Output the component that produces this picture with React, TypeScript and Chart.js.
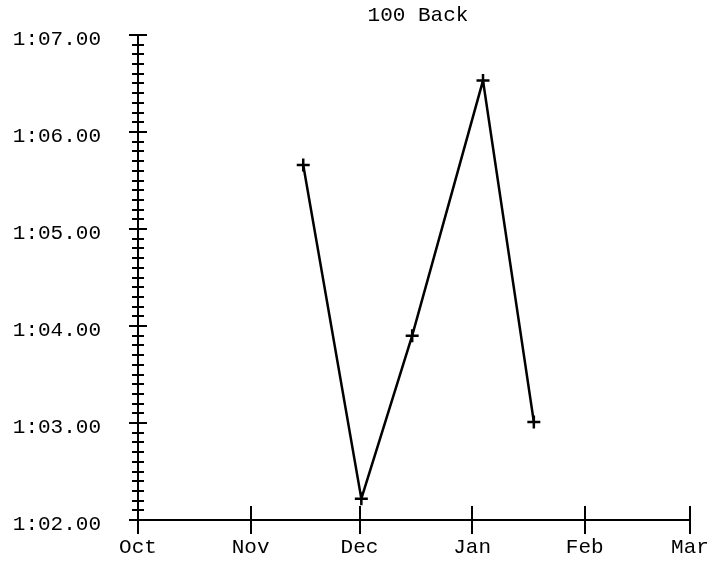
import React, { useEffect, useRef } from 'react';
import { Chart, registerables } from 'chart.js';

Chart.register(...registerables);

// ---- data ----
const chartTitle = '100 Back';
const monthLabels = ['Oct', 'Nov', 'Dec', 'Jan', 'Feb', 'Mar'];
const monthStartDays = [0, 31, 61, 92, 123, 152]; // days since Oct 1 (leap-year season)
const swimDays = [45.5, 61.5, 75.5, 95, 109];
const swimTimes = [65.66, 62.22, 63.9, 66.53, 63.01]; // seconds
const yMin = 62;
const yMax = 67;
const yMinorStep = 0.1;

const FONT = '"Liberation Mono", "Courier New", monospace';
const FONT_SIZE = 21;

function formatTime(v: number): string {
  const m = Math.floor(v / 60);
  const s = v - m * 60;
  return `${m}:${s.toFixed(2).padStart(5, '0')}`;
}

function isWhole(v: number) {
  return Math.abs(v - Math.round(v)) < 1e-6;
}

const crossTicksPlugin = {
  id: 'crossTicks',
  afterDraw(chart: any) {
    const ctx = chart.ctx as CanvasRenderingContext2D;
    const xs = chart.scales.x;
    const ys = chart.scales.y;
    const { left, right, bottom } = chart.chartArea;
    ctx.save();
    ctx.strokeStyle = '#000';
    ctx.lineWidth = 2;
    ctx.beginPath();
    ys.ticks.forEach((t: any) => {
      const p = Math.round(ys.getPixelForValue(t.value));
      const h = isWhole(t.value) ? 9 : 6;
      ctx.moveTo(left - h, p);
      ctx.lineTo(left + h, p);
    });
    xs.ticks.forEach((t: any) => {
      const p = Math.round(xs.getPixelForValue(t.value));
      ctx.moveTo(p, bottom - 14);
      ctx.lineTo(p, bottom + 14);
    });
    ctx.stroke();
    ctx.font = `${FONT_SIZE}px ${FONT}`;
    ctx.fillStyle = '#000';
    ctx.textAlign = 'center';
    ctx.textBaseline = 'middle';
    ctx.fillText(chartTitle, (left + right) / 2 + 4, 15);
    ctx.restore();
  },
};

export default function App() {
  const ref = useRef<HTMLCanvasElement>(null);

  useEffect(() => {
    if (!ref.current) return;
    const chart = new Chart(ref.current, {
      type: 'line',
      data: {
        datasets: [
          {
            data: swimDays.map((d, i) => ({ x: d, y: swimTimes[i] })),
            borderColor: '#000',
            borderWidth: 2.5,
            pointStyle: 'cross',
            pointRadius: 6.5,
            pointBorderWidth: 2.5,
            pointBorderColor: '#000',
            pointBackgroundColor: '#000',
            tension: 0,
          },
        ],
      },
      options: {
        animation: false,
        responsive: false,
        layout: { padding: { top: 35, right: 37, left: 0, bottom: 0 } },
        plugins: {
          legend: { display: false },
          tooltip: { enabled: false },
          title: { display: false },
        },
        scales: {
          x: {
            type: 'linear',
            min: monthStartDays[0],
            max: monthStartDays[monthStartDays.length - 1],
            afterBuildTicks: (scale: any) => {
              scale.ticks = monthStartDays.map((v) => ({ value: v }));
            },
            afterFit: (scale: any) => {
              scale.height = 41;
              scale.paddingLeft = 0;
              scale.paddingRight = 0;
              scale.paddingTop = 0;
              scale.paddingBottom = 0;
            },
            grid: { display: false, drawTicks: false },
            border: { display: true, color: '#000', width: 2 },
            ticks: {
              autoSkip: false,
              maxRotation: 0,
              padding: 14.5,
              color: '#000',
              font: { family: FONT, size: FONT_SIZE },
              callback: (v: any) => {
                const i = monthStartDays.indexOf(Number(v));
                return i >= 0 ? monthLabels[i] : '';
              },
            },
          },
          y: {
            type: 'linear',
            min: yMin,
            max: yMax,
            afterFit: (scale: any) => {
              scale.width = 138;
              scale.paddingLeft = 0;
              scale.paddingRight = 0;
              scale.paddingTop = 0;
              scale.paddingBottom = 0;
            },
            grid: { display: false, drawTicks: false },
            border: { display: true, color: '#000', width: 2 },
            ticks: {
              stepSize: yMinorStep,
              autoSkip: false,
              maxTicksLimit: 1000,
              padding: 37,
              labelOffset: 4.5,
              color: '#000',
              font: { family: FONT, size: FONT_SIZE },
              callback: (v: any) => (isWhole(Number(v)) ? formatTime(Math.round(Number(v))) : ''),
            },
          },
        },
      },
      plugins: [crossTicksPlugin],
    });
    return () => chart.destroy();
  }, []);

  return (
    <div style={{ position: 'absolute', left: 0, top: 0, width: 727, height: 561, background: '#fff' }}>
      <canvas ref={ref} width={727} height={561} style={{ display: 'block' }} />
    </div>
  );
}
